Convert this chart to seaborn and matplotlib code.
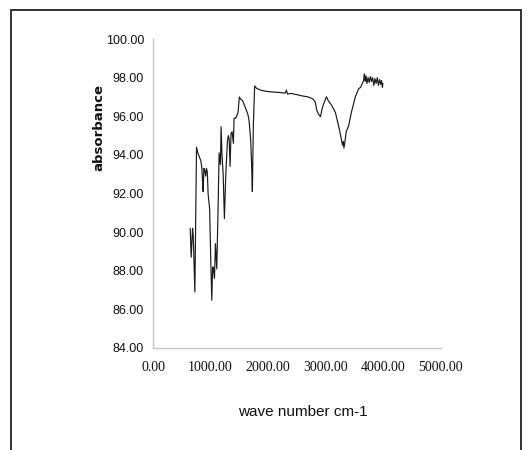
import matplotlib
matplotlib.use("Agg")
import matplotlib.pyplot as plt
import seaborn as sns
import pandas as pd
from matplotlib.patches import Rectangle

wavenumber = [647, 664, 688, 700, 728, 757, 780, 805, 832, 850,
              862, 872, 885, 901, 915, 930, 945, 958, 985, 1005,
              1022, 1035, 1045, 1069, 1086, 1109, 1130, 1150, 1173, 1184,
              1200, 1220, 1242, 1265, 1294, 1310, 1325, 1340, 1357, 1375,
              1398, 1410, 1440, 1479, 1502, 1520, 1560, 1612, 1650, 1670,
              1698, 1715, 1728, 1745, 1768, 1800, 1850, 1900, 1950, 2000,
              2100, 2200, 2300, 2320, 2340, 2400, 2500, 2600, 2700, 2780,
              2820, 2850, 2880, 2912, 2950, 3016, 3050, 3100, 3172, 3220,
              3270, 3295, 3310, 3320, 3335, 3360, 3402, 3450, 3518, 3576,
              3610, 3640, 3663, 3675, 3690, 3705, 3720, 3740, 3760, 3780,
              3800, 3820, 3840, 3860, 3880, 3900, 3920, 3940, 3960, 3975,
              3990, 3998]
absorbance = [90.2, 88.7, 90.2, 89.8, 86.9, 94.4, 94.1, 93.9, 93.7, 93.3,
              92.6, 92.1, 93.3, 93.2, 92.9, 93.3, 93.1, 92.0, 91.2, 88.5,
              86.48, 88.0, 88.2, 87.6, 89.4, 88.1, 91.0, 94.1, 93.5, 95.46,
              94.0, 93.0, 90.7, 92.9, 94.7, 95.0, 94.8, 93.4, 95.1, 95.2,
              94.6, 95.9, 95.9, 96.2, 97.0, 96.9, 96.8, 96.4, 96.1, 95.8,
              94.8, 93.5, 92.1, 95.5, 97.57, 97.45, 97.38, 97.33, 97.3, 97.28,
              97.25, 97.23, 97.2, 97.35, 97.15, 97.18, 97.12, 97.05, 97.0, 96.9,
              96.75, 96.3, 96.1, 95.98, 96.5, 97.01, 96.8, 96.6, 96.2, 95.6,
              94.9, 94.5, 94.7, 94.35, 94.6, 95.2, 95.5, 96.2, 97.0, 97.42,
              97.5, 97.7, 97.85, 98.2, 97.8, 98.1, 97.7, 98.0, 97.75, 98.05,
              97.8, 98.0, 97.6, 97.95, 97.7, 98.0, 97.6, 97.9, 97.65, 97.85,
              97.5, 97.7]

x_ticks = [0, 1000, 2000, 3000, 4000, 5000]
y_ticks = [84, 86, 88, 90, 92, 94, 96, 98, 100]

df = pd.DataFrame({"wavenumber": wavenumber, "absorbance": absorbance})

sns.set_style("white")
fig = plt.figure(figsize=(5.27, 4.5), dpi=100)
ax = fig.add_axes([153/527, 1 - 348/450, (440.5 - 153)/527, (348 - 39)/450])

sns.lineplot(data=df, x="wavenumber", y="absorbance", ax=ax, color="#1a1a1a",
             linewidth=0.85, sort=False, estimator=None)

ax.set_xlim(0, 5000)
ax.set_ylim(84, 100)
ax.set_xticks(x_ticks)
ax.set_yticks(y_ticks)
ax.set_xticklabels([f"{v:.2f}" for v in x_ticks], family=["Liberation Serif", "DejaVu Serif"],
                   fontsize=10, color="#111111")
ax.set_yticklabels([f"{v:.2f}" for v in y_ticks], family=["Liberation Sans", "DejaVu Sans"],
                   fontsize=9, color="#111111")
for s in ["top", "right"]:
    ax.spines[s].set_visible(False)
for s in ["left", "bottom"]:
    ax.spines[s].set_color("#c8c8c8")
    ax.spines[s].set_linewidth(1.0)
ax.tick_params(axis="both", direction="out", length=3.5, width=1.0, color="#c8c8c8")
ax.tick_params(axis="y", pad=3)
ax.tick_params(axis="x", pad=6)
ax.grid(False)

ax.set_xlabel("wave number cm-1", family=["Liberation Sans", "DejaVu Sans"],
              fontsize=11, color="#111111", labelpad=22)
ax.set_ylabel("absorbance", family=["DejaVu Sans"], fontweight="bold",
              fontsize=9.5, color="#111111")
ax.yaxis.set_label_coords(-0.165, 0.715)
ax.xaxis.label.set_x(0.52)

# outer chart frame
fig.patches.append(Rectangle((11/527, -0.05), (521 - 11)/527, 1.05 - 10/450,
                             transform=fig.transFigure, fill=False,
                             edgecolor="#222222", linewidth=1.3))

fig.savefig("out.png", dpi=100)
